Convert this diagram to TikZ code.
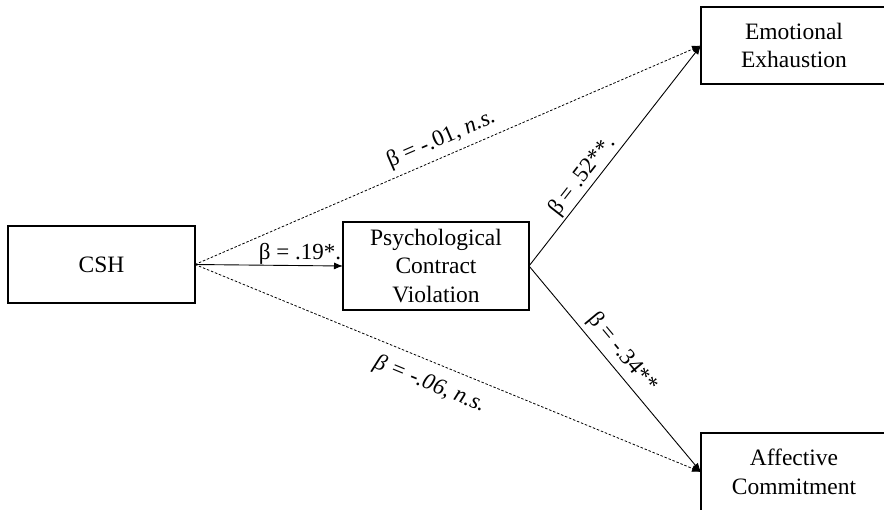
\documentclass[tikz,border=0pt]{standalone}
\usepackage{fontspec}
\setmainfont{Liberation Serif}
\usetikzlibrary{arrows.meta}
\begin{document}
\begin{tikzpicture}[x=1pt,y=-1pt,
  box/.style={draw, line width=1.2pt, outer sep=0pt, align=center,
    font=\fontsize{23.5}{28.5}\selectfont},
  solidarrow/.style={line width=0.9pt, -{Latex[length=9pt,width=7pt]}},
  dasharrow/.style={line width=0.8pt, dash pattern=on 2.5pt off 1.8pt, -{Latex[length=9pt,width=7pt]}},
  lab/.style={font=\fontsize{23}{27}\selectfont, inner sep=1pt}]
\useasboundingbox (0,0) rectangle (884,509);
\clip (0,0) rectangle (884,509);
\node[box, minimum width=187pt, minimum height=77pt] (csh) at (101.5,264.5) {CSH};
\node[box, minimum width=186pt, minimum height=88pt] (pcv) at (436,266) {Psychological\\Contract\\Violation};
\node[box, minimum width=186pt, minimum height=77pt] (ee) at (794,45.5) {Emotional\\Exhaustion};
\node[box, minimum width=186pt, minimum height=78pt] (ac) at (794,472) {Affective\\Commitment};
\draw[solidarrow] (csh.east) -- node[lab, pos=0.71, above=0pt] {β = .19*.} (pcv.west);
\draw[dasharrow] (csh.east) -- node[lab, pos=0.50, sloped, above=5pt] {β = -.01, \textit{n.s.}} (ee.west);
\draw[dasharrow] (csh.east) -- node[lab, pos=0.48, sloped, below=10pt] {\textit{β = -.06, n.s.}} (ac.west);
\draw[solidarrow] (pcv.east) -- node[lab, pos=0.37, sloped, above=1pt] {β = .52**.} (ee.west);
\draw[solidarrow] (pcv.east) -- node[lab, pos=0.47, sloped, above=4pt] {β = -.34**} (ac.west);
\end{tikzpicture}
\end{document}
